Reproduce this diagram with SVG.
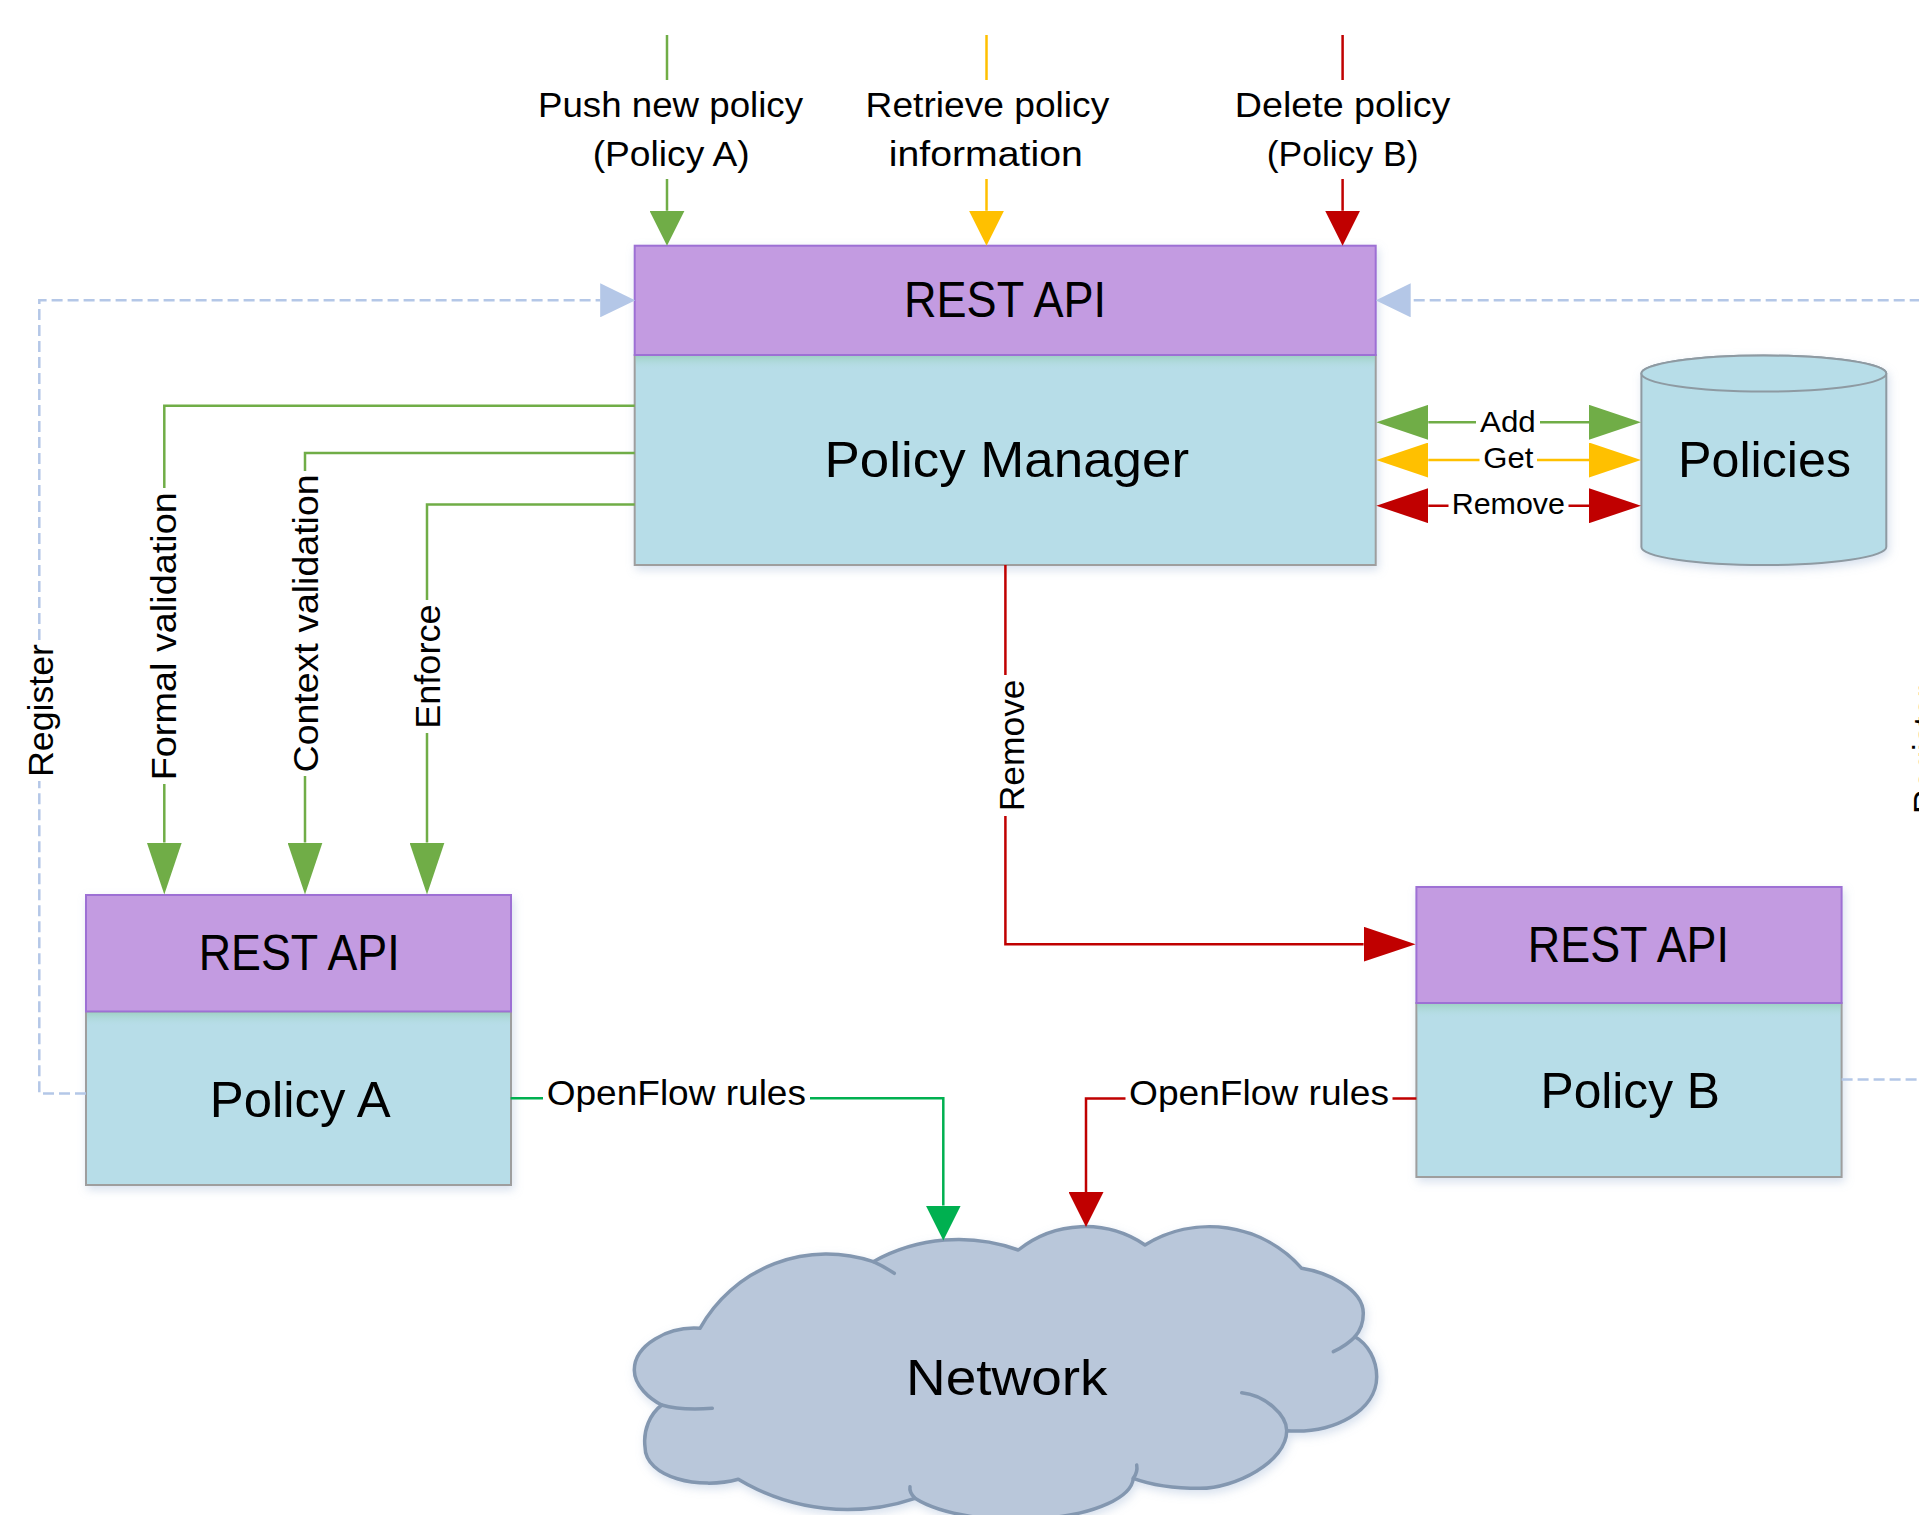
<svg xmlns="http://www.w3.org/2000/svg" width="1919" height="1515" viewBox="0 0 1919 1515">
<defs>
<style>
.api{fill:#C39BE1;stroke:#9D6FD4;stroke-width:2}
.body{fill:#B7DDE8;stroke:#9E9E9E;stroke-width:2}
.t{font-family:'Liberation Sans',Arial,sans-serif;fill:#000}
.big{font-size:50px}
.lbl{font-size:35px}
.sm{font-size:30px}
.c{fill:none;stroke-width:2.5}
.g{stroke:#70AD47}
.y{stroke:#FFC000}
.r{stroke:#C00000}
.of{stroke:#00B050}
.d{stroke:#B4C7E7;stroke-dasharray:11 5}
.cloud{fill:#B9C7DA;stroke:#8397B0;stroke-width:3.5;stroke-linejoin:round}
.hook{fill:none;stroke:#8397B0;stroke-width:3.5;stroke-linecap:round}
.cyl{fill:#B7DDE8;stroke:#8E9AA2;stroke-width:2}
</style>
<filter id="sh" x="-10%" y="-10%" width="125%" height="130%">
<feDropShadow dx="2" dy="4" stdDeviation="5" flood-color="#8FA8CF" flood-opacity="0.35"/>
</filter>
<linearGradient id="bt" x1="0" y1="0" x2="0" y2="1">
<stop offset="0" stop-color="#8CC9A8" stop-opacity="0.55"/>
<stop offset="1" stop-color="#B7DDE8" stop-opacity="0"/>
</linearGradient>
<marker id="sG" markerUnits="userSpaceOnUse" markerWidth="35" markerHeight="35" refX="0" refY="17.5" orient="auto"><path d="M0,0L35,17.5L0,35Z" fill="#70AD47"/></marker>
<marker id="sY" markerUnits="userSpaceOnUse" markerWidth="35" markerHeight="35" refX="0" refY="17.5" orient="auto"><path d="M0,0L35,17.5L0,35Z" fill="#FFC000"/></marker>
<marker id="sR" markerUnits="userSpaceOnUse" markerWidth="35" markerHeight="35" refX="0" refY="17.5" orient="auto"><path d="M0,0L35,17.5L0,35Z" fill="#C00000"/></marker>
<marker id="sOG" markerUnits="userSpaceOnUse" markerWidth="35" markerHeight="35" refX="0" refY="17.5" orient="auto"><path d="M0,0L35,17.5L0,35Z" fill="#00B050"/></marker>
<marker id="sB" markerUnits="userSpaceOnUse" markerWidth="35" markerHeight="34" refX="0" refY="17" orient="auto"><path d="M0,0L35,17L0,34Z" fill="#B4C7E7"/></marker>
<marker id="lG" markerUnits="userSpaceOnUse" markerWidth="52" markerHeight="35" refX="0" refY="17.5" orient="auto-start-reverse"><path d="M0,0L52,17.5L0,35Z" fill="#70AD47"/></marker>
<marker id="lY" markerUnits="userSpaceOnUse" markerWidth="52" markerHeight="35" refX="0" refY="17.5" orient="auto-start-reverse"><path d="M0,0L52,17.5L0,35Z" fill="#FFC000"/></marker>
<marker id="lR" markerUnits="userSpaceOnUse" markerWidth="52" markerHeight="35" refX="0" refY="17.5" orient="auto-start-reverse"><path d="M0,0L52,17.5L0,35Z" fill="#C00000"/></marker>
</defs>

<g id="policy-manager">
<g filter="url(#sh)">
<rect class="body" x="634.7" y="355" width="741" height="210"/>
<rect class="api" x="634.7" y="245.7" width="741" height="109.3"/>
</g>
<rect x="635.7" y="356" width="739" height="14" fill="url(#bt)"/>
<text class="t big" x="904" y="317" textLength="202" lengthAdjust="spacingAndGlyphs">REST API</text>
<text class="t big" x="824.5" y="476.5" textLength="364.5" lengthAdjust="spacingAndGlyphs">Policy Manager</text>
</g>

<g id="policies">
<g filter="url(#sh)">
<path class="cyl" d="M1641.4 373.5V547A122.45 18 0 0 0 1886.3 547V373.5A122.45 18 0 0 0 1641.4 373.5Z"/>
<ellipse class="cyl" cx="1763.85" cy="373.5" rx="122.45" ry="18"/>
</g>
<text class="t big" x="1678" y="476.7" textLength="173" lengthAdjust="spacingAndGlyphs">Policies</text>
</g>

<g id="policy-a">
<g filter="url(#sh)">
<rect class="body" x="86" y="1011.5" width="425" height="173.5"/>
<rect class="api" x="86" y="895" width="425" height="116.5"/>
</g>
<rect x="87" y="1012.5" width="423" height="14" fill="url(#bt)"/>
<text class="t big" x="198.7" y="970" textLength="201" lengthAdjust="spacingAndGlyphs">REST API</text>
<text class="t big" x="209.8" y="1116.6" textLength="180.8" lengthAdjust="spacingAndGlyphs">Policy A</text>
</g>

<g id="policy-b">
<g filter="url(#sh)">
<rect class="body" x="1416.4" y="1003" width="425.2" height="174"/>
<rect class="api" x="1416.4" y="887" width="425.2" height="116"/>
</g>
<rect x="1417.4" y="1004" width="423.2" height="14" fill="url(#bt)"/>
<text class="t big" x="1527.8" y="962" textLength="201.2" lengthAdjust="spacingAndGlyphs">REST API</text>
<text class="t big" x="1540.5" y="1108" textLength="179.5" lengthAdjust="spacingAndGlyphs">Policy B</text>
</g>

<g id="network">
<path class="cloud" filter="url(#sh)" d="M700 1328.3A145 145 0 0 1 873.3 1261.7A175 175 0 0 1 1018.3 1250A107 107 0 0 1 1145 1245A123 123 0 0 1 1301.7 1268.3C1325 1272 1363.3 1288 1363.3 1313.3C1363.3 1324 1360 1331 1355 1336.7C1368 1344 1376.7 1360 1376.7 1376.7C1376.7 1410 1335 1434 1286.7 1430.7C1286.7 1462 1235 1488.3 1200 1488.3C1175 1488.3 1150 1484.5 1133.3 1478.3A117 43 0 0 1 915 1498.3A211 211 0 0 1 738.3 1479.3C700 1490 645 1478 645 1446.7C643 1430 650 1414 661.7 1405C650 1399 634.3 1386 634.3 1370C634.3 1345 668 1326 700 1328.3Z"/>
<path class="hook" d="M661.7 1405C675 1409 695 1409.5 712.3 1408.3"/>
<path class="hook" d="M873.3 1261.7A145 145 0 0 1 894.3 1273.3"/>
<path class="hook" d="M1355 1336.7C1349 1343 1341 1348 1333.3 1351.7"/>
<path class="hook" d="M1286.7 1430.7C1286.7 1415 1265 1395 1241.7 1392.7"/>
<path class="hook" d="M1133.3 1478.3Q1138 1472 1136.7 1465"/>
<path class="hook" d="M915 1498.3Q909 1492 910 1486.7"/>
<text class="t big" x="906" y="1395" textLength="201.6" lengthAdjust="spacingAndGlyphs">Network</text>
</g>

<g id="connectors">
<path class="c g" d="M667 35V80M667 179V210.7" marker-end="url(#sG)"/>
<path class="c y" d="M986.5 35V80M986.5 179V210.7" marker-end="url(#sY)"/>
<path class="c r" d="M1342.6 35V80M1342.6 179V210.7" marker-end="url(#sR)"/>
<text class="t lbl" x="538" y="117" textLength="265" lengthAdjust="spacingAndGlyphs">Push new policy</text>
<text class="t lbl" x="592.7" y="166" textLength="157" lengthAdjust="spacingAndGlyphs">(Policy A)</text>
<text class="t lbl" x="865.6" y="117" textLength="243.7" lengthAdjust="spacingAndGlyphs">Retrieve policy</text>
<text class="t lbl" x="888.8" y="166" textLength="194" lengthAdjust="spacingAndGlyphs">information</text>
<text class="t lbl" x="1234.8" y="117" textLength="215.6" lengthAdjust="spacingAndGlyphs">Delete policy</text>
<text class="t lbl" x="1266.7" y="166" textLength="151.8" lengthAdjust="spacingAndGlyphs">(Policy B)</text>

<path class="c d" d="M86 1093.6H39.3V781M39.3 640V300.3H600.2" marker-end="url(#sB)"/>
<path class="c d" d="M1841.6 1079.5H1925V820M1925 680V300.3H1410.7" marker-end="url(#sB)"/>
<text class="t lbl" transform="translate(52.5 777) rotate(-90)" textLength="133" lengthAdjust="spacingAndGlyphs">Register</text>
<text class="t lbl" transform="translate(1938 814) rotate(-90)" textLength="128" lengthAdjust="spacingAndGlyphs">Register</text>

<path class="c g" d="M634.7 405.8H164.3V488M164.3 784V842.5" marker-end="url(#lG)"/>
<path class="c g" d="M634.7 453H305V471M305 776V842.5" marker-end="url(#lG)"/>
<path class="c g" d="M634.7 504.5H427V600M427 733V842.5" marker-end="url(#lG)"/>
<text class="t lbl" transform="translate(176.3 780.3) rotate(-90)" textLength="288" lengthAdjust="spacingAndGlyphs">Formal validation</text>
<text class="t lbl" transform="translate(318 772.4) rotate(-90)" textLength="298" lengthAdjust="spacingAndGlyphs">Context validation</text>
<text class="t lbl" transform="translate(440 728.8) rotate(-90)" textLength="124.3" lengthAdjust="spacingAndGlyphs">Enforce</text>

<path class="c g" d="M1428.3 422.3H1476M1540 422.3H1589" marker-start="url(#lG)" marker-end="url(#lG)"/>
<path class="c y" d="M1428.3 460H1479.5M1537 460H1589" marker-start="url(#lY)" marker-end="url(#lY)"/>
<path class="c r" d="M1428.3 505.7H1448.5M1568.5 505.7H1589" marker-start="url(#lR)" marker-end="url(#lR)"/>
<text class="t sm" x="1480" y="431.7" textLength="55.7" lengthAdjust="spacingAndGlyphs">Add</text>
<text class="t sm" x="1483.3" y="468.3" textLength="50" lengthAdjust="spacingAndGlyphs">Get</text>
<text class="t sm" x="1451.7" y="514" textLength="113.3" lengthAdjust="spacingAndGlyphs">Remove</text>

<path class="c r" d="M1005.4 565V675M1005.4 816V944.2H1363.6" marker-end="url(#lR)"/>
<text class="t lbl" transform="translate(1024 811.2) rotate(-90)" textLength="131.7" lengthAdjust="spacingAndGlyphs">Remove</text>

<path class="c of" d="M510.6 1098.3H543M810 1098.3H943.3V1205.5" marker-end="url(#sOG)"/>
<path class="c r" d="M1416.4 1098.5H1392.5M1125.5 1098.5H1086V1192" marker-end="url(#sR)"/>
<text class="t lbl" x="546.7" y="1105" textLength="259.3" lengthAdjust="spacingAndGlyphs">OpenFlow rules</text>
<text class="t lbl" x="1129" y="1105" textLength="260" lengthAdjust="spacingAndGlyphs">OpenFlow rules</text>
</g>
</svg>
